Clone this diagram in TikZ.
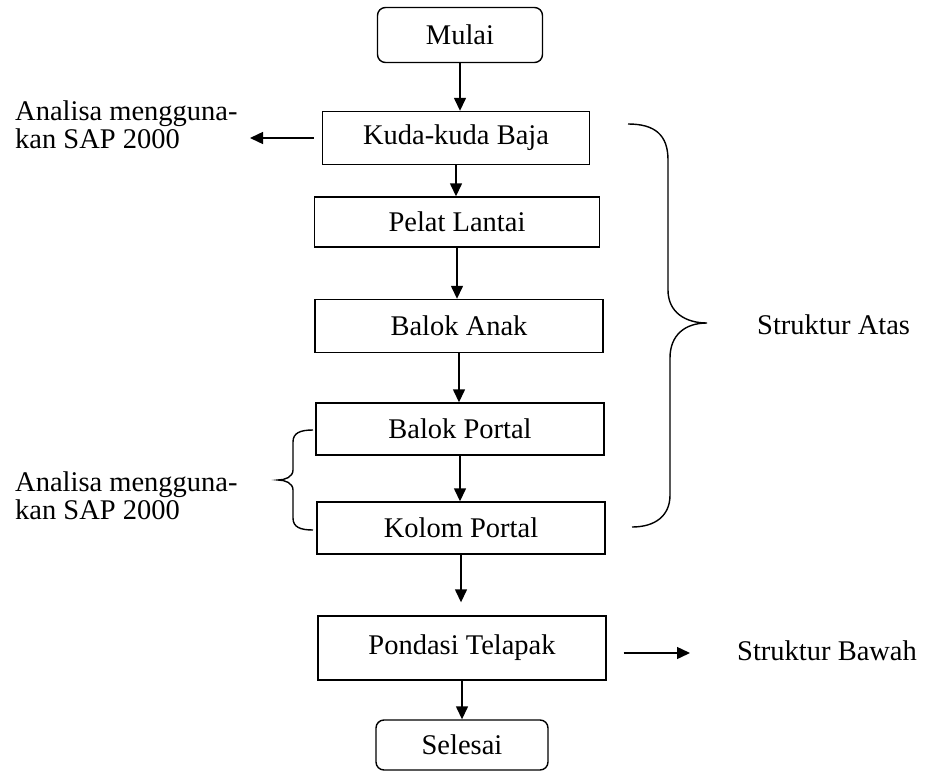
\documentclass[tikz,border=0pt]{standalone}
\usepackage{fontspec}
\setmainfont{Liberation Serif}
\usetikzlibrary{arrows.meta}
\begin{document}
\begin{tikzpicture}[x=1pt,y=-1pt,
  every node/.style={font=\fontsize{28.5}{28}\selectfont, inner sep=0pt},
  box/.style={draw, line width=1.4pt, anchor=center},
  term/.style={box, rounded corners=8pt},
  lbl/.style={anchor=west, align=left},
  flow/.style={line width=1.4pt, -{Triangle[length=13pt,width=12pt]}},
  brace/.style={line width=1.4pt}]
\useasboundingbox (0,0) rectangle (931,773);
% main column
\node[term, minimum width=165pt, minimum height=55pt] (mulai) at (460,35) {Mulai};
\node[box, minimum width=267pt, minimum height=53pt] (kuda) at (456,138) {Kuda-kuda Baja};
\node[box, minimum width=285pt, minimum height=50pt] (pelat) at (457,222) {Pelat Lantai};
\node[box, minimum width=288pt, minimum height=53pt] (anak) at (459,326) {Balok Anak};
\node[box, minimum width=288pt, minimum height=52pt] (bportal) at (460,429) {Balok Portal};
\node[box, minimum width=288pt, minimum height=52pt] (kolom) at (461,528) {Kolom Portal};
\node[box, minimum width=288pt, minimum height=64pt] (pond) at (462,648) {Pondasi Telapak};
\node[term, minimum width=172pt, minimum height=50pt] (selesai) at (462,745) {Selesai};
% vertical connectors
\draw[flow] (mulai.south) -- (mulai.south |- kuda.north);
\draw[flow] (kuda.south) -- (kuda.south |- pelat.north);
\draw[flow] (pelat.south) -- (pelat.south |- anak.north);
\draw[flow] (anak.south) -- (anak.south |- bportal.north);
\draw[flow] (bportal.south) -- (bportal.south |- kolom.north);
\draw[flow] (kolom.south) -- ([yshift=13pt]kolom.south |- pond.north);
\draw[flow] (pond.south) -- (pond.south |- selesai.north);
% side labels
\node[lbl] (lab1) at (15,125) {Analisa mengguna-\\kan SAP 2000};
\node[lbl] (lab2) at (15,496) {Analisa mengguna-\\kan SAP 2000};
\node[lbl] (atas) at (757,325) {Struktur Atas};
\node[lbl] (bawah) at (737,651) {Struktur Bawah};
\coordinate (tip1) at (250,138);
\coordinate (tip2) at (690,653);
\draw[flow] ([xshift=-8pt]kuda.west) -- (tip1);
\draw[flow] ([xshift=17pt,yshift=-5pt]pond.east) -- (tip2);
% braces
\draw[brace] (628,124) .. controls (655,124) and (668,135) .. (668,160)
  -- (668,290) .. controls (668,312) and (685,323) .. (707,323)
  .. controls (685,323) and (670,335) .. (670,358)
  -- (670,495) .. controls (670,516) and (655,527) .. (632,527);
\draw[brace] (313,430) .. controls (300,430) and (293,433) .. (293,442)
  -- (293,470) .. controls (293,477) and (285,480) .. (278,480)
  .. controls (285,480) and (293,483) .. (293,490)
  -- (293,518) .. controls (293,527) and (300,530) .. (313,530);
\end{tikzpicture}
\end{document}
